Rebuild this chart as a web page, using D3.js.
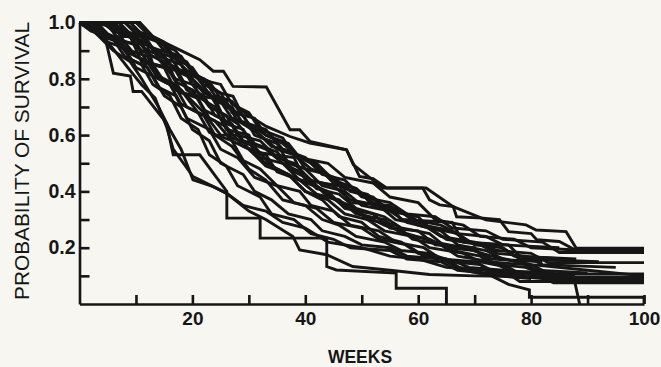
<!DOCTYPE html>
<html>
<head>
<meta charset="utf-8">
<script src="https://cdn.jsdelivr.net/npm/d3@7"></script>
<style>
  html, body { margin: 0; padding: 0; background: #f8f6f1; }
  svg { display: block; }
  text { font-family: "Liberation Sans", Arial, Helvetica, sans-serif; fill: #161616; }
</style>
</head>
<body>
<svg id="chart" width="661" height="367"></svg>
<script>
// ---- tick labels ----
const xTicks = [10, 20, 30, 40, 50, 60, 70, 80, 90, 100];
const xLabels = [20, 40, 60, 80, 100];
const yTicks = [0.1, 0.2, 0.3, 0.4, 0.5, 0.6, 0.7, 0.8, 0.9, 1.0];
const yLabels = [0.2, 0.4, 0.6, 0.8, 1.0];
const xTitle = "WEEKS";
const yTitle = "PROBABILITY OF SURVIVAL";

// ---- survival curves: [week, probability] ----
const curveA = [[0,1],[10.7,1],[13,0.95],[15,0.93],[18,0.9],[21.3,0.868],[23.7,0.827],[25.5,0.827],[27.2,0.773],[33.1,0.771],[37.3,0.619],[39,0.619],[40.8,0.578],[47.3,0.548],[49.6,0.453],[52,0.445],[54.4,0.412],[61.4,0.412],[66.2,0.346],[72,0.299],[79.1,0.281],[80.9,0.263],[86.2,0.257],[88,0.198],[100,0.198]];
const curveB = [[0,1],[8,1],[10,0.96],[14,0.93],[17,0.9],[19,0.85],[21.3,0.803],[24.9,0.75],[27.2,0.738],[28.4,0.69],[33.1,0.631],[37.3,0.595],[40.8,0.572],[47.3,0.548],[48.5,0.495],[50.8,0.459],[53.8,0.412],[60.8,0.412],[62,0.37],[63.8,0.352],[66.2,0.346],[66.8,0.31],[71.5,0.305],[74.4,0.3],[76,0.257],[80,0.25],[81,0.228],[85,0.222],[88,0.19],[100,0.19]];
const curveC = [[0,1],[3,0.99],[4.5,0.95],[6,0.82],[9,0.81],[9.5,0.755],[11,0.755],[15.4,0.643],[16.6,0.53],[21.3,0.53],[26.1,0.4],[26.1,0.305],[32,0.305],[32,0.234],[43.8,0.234],[43.8,0.133],[45.5,0.121],[56.1,0.11],[56.1,0.056],[65,0.056],[65,0]];
const curveD = [[0,1],[0.4,0.993],[3.9,0.957],[6.3,0.898],[8.6,0.839],[11,0.779],[13.4,0.732],[14.2,0.69],[15.4,0.631],[16.6,0.55],[20.1,0.453],[23.7,0.417],[26,0.394],[30,0.33],[33,0.3],[37.8,0.24],[39,0.192],[43.8,0.175],[48.4,0.133],[55,0.12],[62,0.105],[70,0.1],[78,0.098],[85,0.09],[100,0.09]];
const curveE = [[0,1],[2,0.98],[4,0.94],[6,0.9],[9,0.86],[11,0.8],[14,0.7],[16,0.62],[18,0.55],[20.1,0.441],[23.7,0.417],[26,0.394],[29,0.35],[33,0.33],[36,0.29],[40,0.27],[44,0.22],[50,0.2],[55,0.17],[60,0.16],[65,0.13],[72,0.12],[76,0.1],[82,0.09],[100,0.085]];
const curveF = [[0,1],[6,1],[8,0.96],[11,0.96],[13,0.9],[16,0.88],[18,0.82],[22,0.8],[24,0.74],[27,0.72],[30,0.64],[33,0.62],[36,0.55],[40,0.52],[43,0.46],[47,0.44],[50,0.38],[55,0.36],[58,0.32],[63,0.31],[66,0.27],[72,0.26],[75,0.23],[82,0.22],[85,0.183],[100,0.183]];
const curveG = [[0,1],[4,1],[6,0.97],[9,0.95],[11,0.9],[14,0.87],[17,0.8],[20,0.78],[23,0.7],[26,0.67],[28,0.6],[32,0.58],[35,0.52],[38,0.5],[41,0.44],[45,0.42],[48,0.37],[53,0.35],[56,0.3],[61,0.28],[64,0.24],[70,0.22],[74,0.19],[80,0.18],[83,0.147],[100,0.147]];
const curveH = [[0,1],[5,0.99],[7,0.94],[10,0.92],[12,0.86],[15,0.84],[17,0.76],[21,0.73],[23,0.66],[26,0.63],[29,0.56],[33,0.53],[35,0.47],[39,0.44],[42,0.39],[46,0.37],[49,0.32],[54,0.3],[57,0.25],[62,0.23],[66,0.19],[71,0.17],[74,0.14],[79,0.13],[82,0.107],[100,0.107]];
const curveI = [[0,1],[3,1],[5,0.96],[8,0.93],[10,0.88],[13,0.85],[15,0.79],[18,0.76],[21,0.68],[24,0.65],[27,0.58],[30,0.55],[33,0.49],[37,0.46],[40,0.4],[44,0.37],[47,0.32],[51,0.3],[54,0.26],[59,0.24],[62,0.2],[68,0.18],[71,0.15],[76,0.13],[79,0.096],[100,0.096]];
const curveJ = [[0,1],[7,1],[9,0.95],[12,0.93],[14,0.88],[18,0.85],[20,0.78],[23,0.75],[25,0.68],[28,0.64],[31,0.57],[35,0.54],[38,0.47],[41,0.44],[44,0.38],[48,0.35],[51,0.3],[56,0.28],[59,0.23],[64,0.21],[67,0.17],[73,0.15],[76,0.12],[81,0.1],[84,0.075],[100,0.075]];
const curveK = [[0,1],[2,1],[4,0.95],[7,0.93],[9,0.87],[12,0.84],[14,0.77],[17,0.74],[19,0.66],[23,0.62],[25,0.55],[28,0.52],[31,0.45],[35,0.42],[38,0.36],[42,0.34],[45,0.29],[50,0.27],[53,0.23],[58,0.21],[61,0.17],[66,0.155],[69,0.13],[75,0.12],[78,0.08],[100,0.08]];
const curveL = [[0,1],[5,1],[7,0.97],[10,0.95],[12,0.89],[15,0.86],[17,0.79],[20,0.76],[22,0.69],[25,0.66],[27,0.59],[31,0.56],[34,0.49],[37,0.46],[40,0.4],[43,0.37],[46,0.31],[50,0.29],[53,0.24],[57,0.22],[60,0.18],[65,0.16],[68,0.12],[73,0.1],[76,0.07],[79.7,0.05],[79.7,0.024],[100,0.024],[100,0]];
const curveM = [[0,1],[9,1],[11,0.96],[14,0.94],[16,0.89],[19,0.86],[21,0.8],[25,0.78],[27,0.71],[30,0.68],[32,0.62],[36,0.59],[38,0.53],[42,0.5],[45,0.44],[49,0.41],[52,0.35],[57,0.33],[60,0.28],[64,0.26],[67,0.21],[72,0.19],[75,0.16],[80,0.14],[83,0.11],[87.5,0.1],[88.6,0]];
const curveN = [[0,1],[1,0.99],[3,0.97],[6,0.95],[8,0.9],[11,0.87],[13,0.81],[16,0.78],[18,0.71],[21,0.68],[23,0.61],[27,0.58],[29,0.51],[32,0.48],[35,0.42],[39,0.4],[41,0.35],[45,0.33],[48,0.28],[53,0.26],[56,0.22],[61,0.2],[64,0.16],[70,0.15],[73,0.12],[84,0.11]];
const curveO = [[0,1],[4,1],[6,0.98],[9,0.96],[11,0.93],[14,0.9],[16,0.85],[19,0.82],[22,0.75],[25,0.72],[27,0.66],[30,0.64],[33,0.6],[37,0.57],[39,0.52],[44,0.5],[47,0.45],[52,0.43],[55,0.38],[60,0.36],[63,0.3],[68,0.28],[71,0.24],[77,0.23],[80,0.2],[90,0.19]];
const curveP = [[0,1],[3,0.98],[5,0.93],[8,0.91],[10,0.84],[13,0.81],[15,0.74],[18,0.7],[20,0.62],[23,0.58],[25,0.5],[29,0.46],[31,0.4],[34,0.37],[37,0.32],[41,0.3],[43,0.26],[47,0.24],[50,0.21],[55,0.2],[58,0.17],[64,0.16],[67,0.13],[73,0.12],[76,0.11],[86,0.1]];
const curveQ = [[0,1],[6,1],[8,0.97],[11,0.95],[13,0.91],[16,0.89],[19,0.83],[21,0.8],[24,0.72],[27,0.7],[29,0.64],[32,0.6],[35,0.55],[38,0.53],[41,0.48],[45,0.45],[48,0.4],[52,0.38],[55,0.33],[60,0.31],[62,0.27],[67,0.25],[70,0.21],[75,0.2],[78,0.16],[92,0.15]];
const curveR = [[0,1],[8,1],[10,0.97],[13,0.95],[15,0.9],[18,0.88],[20,0.82],[23,0.79],[26,0.7],[29,0.67],[31,0.6],[35,0.57],[37,0.5],[40,0.48],[43,0.42],[47,0.4],[50,0.35],[55,0.33],[58,0.29],[62,0.27],[65,0.23],[71,0.21],[74,0.18],[79,0.17],[82,0.14],[95,0.13]];
const curveS = [[0,1],[2,0.99],[4,0.96],[7,0.94],[9,0.89],[12,0.86],[14,0.8],[17,0.77],[19,0.7],[22,0.67],[24,0.6],[27,0.56],[30,0.48],[33,0.44],[36,0.37],[40,0.35],[43,0.3],[46,0.28],[49,0.24],[54,0.22],[57,0.19],[62,0.18],[66,0.15],[71,0.14],[74,0.1],[80,0.09]];
const curveT = [[0,1],[5,1],[7,0.96],[10,0.94],[12,0.9],[15,0.88],[17,0.83],[20,0.8],[23,0.74],[26,0.72],[28,0.65],[31,0.62],[34,0.56],[38,0.54],[40,0.48],[44,0.46],[47,0.41],[51,0.39],[54,0.34],[58,0.32],[61,0.28],[66,0.26],[69,0.22],[74,0.21],[77,0.17],[88,0.16]];
const curveU = [[0,1],[10,1],[12,0.96],[15,0.93],[17,0.87],[20,0.84],[22,0.78],[25,0.75],[27,0.68],[31,0.66],[33,0.6],[36,0.57],[39,0.52],[42,0.49],[45,0.43],[49,0.41],[52,0.36],[56,0.34],[59,0.3],[64,0.28],[67,0.25],[72,0.24],[75,0.21],[85,0.2]];
const curveV = [[0,1],[1,1],[3,0.96],[6,0.94],[8,0.88],[11,0.85],[13,0.78],[16,0.74],[18,0.66],[21,0.62],[23,0.53],[26,0.49],[28,0.42],[32,0.38],[34,0.32],[38,0.3],[41,0.25],[45,0.23],[48,0.2],[55,0.19],[58,0.16],[64,0.15],[67,0.12],[72,0.11],[78,0.1]];
const curveW = [[0,1],[7,1],[9,0.96],[12,0.94],[14,0.87],[17,0.84],[19,0.77],[22,0.74],[24,0.67],[27,0.64],[29,0.58],[33,0.55],[36,0.5],[39,0.47],[42,0.41],[46,0.39],[49,0.34],[54,0.31],[57,0.27],[62,0.25],[65,0.2],[70,0.19],[73,0.16],[82,0.15]];
const curveX = [[0,1],[3,1],[5,0.95],[9,0.95],[11,0.86],[16,0.84],[18,0.75],[24,0.73],[26,0.64],[29,0.62],[31,0.54],[38,0.52],[40,0.44],[46,0.42],[48,0.36],[55,0.35],[57,0.3],[66,0.29],[68,0.22],[76,0.21],[78,0.17],[86,0.16]];
const curveY = [[0,1],[2,0.97],[6,0.94],[9,0.9],[12,0.88],[14,0.81],[17,0.78],[20,0.72],[22,0.68],[25,0.6],[28,0.6],[30,0.55],[33,0.5],[38,0.45],[42,0.42],[46,0.36],[50,0.32],[54,0.28],[58,0.25],[63,0.22],[68,0.2],[73,0.17],[80,0.14],[90,0.12],[100,0.1]];
const curveZ = [[0,1],[6,0.99],[8,0.93],[12,0.92],[13,0.85],[17,0.83],[19,0.76],[24,0.7],[26,0.62],[30,0.6],[32,0.52],[36,0.5],[39,0.44],[44,0.4],[47,0.34],[52,0.32],[55,0.27],[60,0.26],[63,0.21],[70,0.2],[72,0.15],[79,0.14],[81,0.12],[90,0.11]];

const curves = [curveA, curveB, curveC, curveD, curveE, curveF, curveG, curveH, curveI, curveJ, curveK, curveL,
                curveM, curveN, curveO, curveP, curveQ, curveR, curveS, curveT, curveU, curveV, curveW,
                curveX, curveY, curveZ];

// ---- drawing ----
const svg = d3.select("#chart");
svg.append("rect").attr("width", 661).attr("height", 367).attr("fill", "#f8f6f1");

const x = d3.scaleLinear().domain([0, 100]).range([79.5, 644]);
const y = d3.scaleLinear().domain([0, 1]).range([304, 22.5]);
const ink = "#161616";

const line = d3.line().x(d => x(d[0])).y(d => y(d[1]));

svg.append("g")
  .selectAll("path")
  .data(curves)
  .join("path")
  .attr("d", line)
  .attr("fill", "none")
  .attr("stroke", ink)
  .attr("stroke-width", 2.9)
  .attr("stroke-linejoin", "miter");

// y axis
const yAxis = d3.axisLeft(y)
  .tickValues(yTicks)
  .tickSizeInner(-10)
  .tickSizeOuter(0)
  .tickPadding(4)
  .tickFormat(d => yLabels.some(v => Math.abs(v - d) < 1e-9) ? d3.format(".1f")(d) : "");
const gy = svg.append("g").attr("transform", `translate(${x(0)},0)`).call(yAxis);
gy.selectAll("path, line").attr("stroke", ink).attr("stroke-width", 2.6);
gy.selectAll("text").attr("font-size", 19.5).attr("font-weight", "bold").attr("fill", ink)
  .attr("font-family", "'Liberation Sans', Arial, sans-serif");

// x axis
const xAxis = d3.axisBottom(x)
  .tickValues(xTicks)
  .tickSizeInner(-9)
  .tickSizeOuter(0)
  .tickPadding(8)
  .tickFormat(d => xLabels.includes(d) ? String(d) : "");
const gx = svg.append("g").attr("transform", `translate(0,${y(0)})`).call(xAxis);
gx.selectAll("path, line").attr("stroke", ink).attr("stroke-width", 2.6);
gx.selectAll("text").attr("font-size", 19).attr("font-weight", "bold").attr("fill", ink)
  .attr("font-family", "'Liberation Sans', Arial, sans-serif");

// titles
svg.append("text")
  .attr("x", 360).attr("y", 363)
  .attr("text-anchor", "middle")
  .attr("font-size", 17.5).attr("font-weight", "bold")
  .text(xTitle);

svg.append("text")
  .attr("transform", "translate(29,161) rotate(-90)")
  .attr("text-anchor", "middle")
  .attr("font-size", 21)
  .attr("textLength", 278).attr("lengthAdjust", "spacingAndGlyphs")
  .text(yTitle);
</script>
</body>
</html>
